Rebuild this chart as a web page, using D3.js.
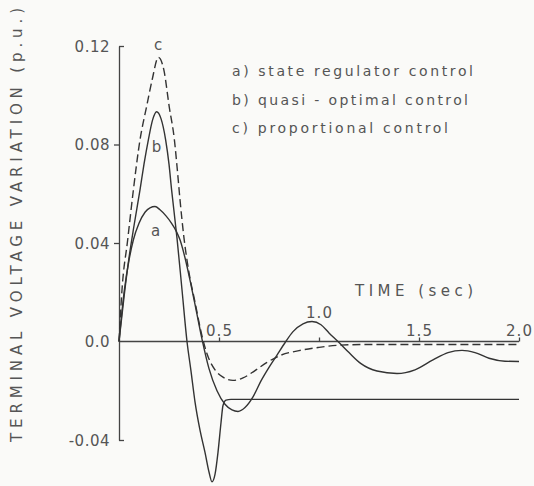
<!DOCTYPE html>
<html>
<head>
<meta charset="utf-8">
<script src="https://cdn.jsdelivr.net/npm/d3@7"></script>
<style>
  body { margin: 0; background: #fafaf8; }
  svg { display: block; font-family: 'DejaVu Sans', sans-serif; }
  .axis path, .axis line { stroke: #444; stroke-width: 1.3; }
  .axis text { fill: #555; font-size: 15px; font-family: 'DejaVu Sans', sans-serif; }
  .curve { fill: none; stroke: #333; stroke-width: 1.4; }
  .label { fill: #555; }
</style>
</head>
<body>
<div id="chart"></div>
<script>
// Curve data: [time (sec), voltage variation (p.u.)]
const stateRegulator = [
  [0, 0], [0.027, 0.021], [0.05, 0.033], [0.072, 0.0413], [0.10, 0.048], [0.13, 0.0525],
  [0.155, 0.0543], [0.18, 0.0548], [0.205, 0.0535], [0.235, 0.051], [0.263, 0.048],
  [0.285, 0.045], [0.305, 0.0413], [0.33, 0.034], [0.36, 0.023], [0.39, 0.011],
  [0.415, 0.001], [0.45, -0.011], [0.49, -0.020], [0.53, -0.0255], [0.565, -0.0278],
  [0.595, -0.0284], [0.63, -0.0268], [0.67, -0.0225], [0.71, -0.016], [0.75, -0.0105],
  [0.79, -0.0055], [0.83, -0.0005], [0.87, 0.004], [0.92, 0.0072], [0.965, 0.0081],
  [1.01, 0.0068], [1.05, 0.0035], [1.095, 0], [1.15, -0.0045], [1.21, -0.009],
  [1.29, -0.012], [1.39, -0.013], [1.48, -0.0115], [1.57, -0.0075], [1.645, -0.0045],
  [1.715, -0.0036], [1.78, -0.0045], [1.85, -0.0068], [1.93, -0.008], [2.0, -0.0081]
];

const quasiOptimal = [
  [0, 0], [0.025, 0.018], [0.05, 0.034], [0.075, 0.047], [0.105, 0.0616], [0.125, 0.072],
  [0.147, 0.082], [0.168, 0.090], [0.188, 0.0933], [0.21, 0.0905], [0.233, 0.082],
  [0.25, 0.072], [0.263, 0.0616], [0.29, 0.042], [0.315, 0.021], [0.34, 0],
  [0.36, -0.012], [0.38, -0.0245], [0.405, -0.036], [0.43, -0.045], [0.45, -0.053],
  [0.465, -0.057], [0.48, -0.054], [0.495, -0.045], [0.51, -0.033], [0.52, -0.026],
  [0.535, -0.0238], [0.56, -0.0235], [1.0, -0.0235], [2.0, -0.0235]
];

const proportional = [
  [0, 0], [0.015, 0.021], [0.043, 0.041], [0.072, 0.0616], [0.105, 0.0819], [0.138, 0.0954],
  [0.165, 0.106], [0.197, 0.1154], [0.225, 0.110], [0.251, 0.0954], [0.277, 0.0819],
  [0.293, 0.0685], [0.305, 0.0576], [0.325, 0.042], [0.35, 0.028], [0.38, 0.016],
  [0.41, 0.004], [0.44, -0.005], [0.48, -0.0115], [0.52, -0.0145], [0.57, -0.0158],
  [0.62, -0.0148], [0.68, -0.0118], [0.74, -0.0085], [0.805, -0.0057], [0.9, -0.0037],
  [1.0, -0.0024], [1.1, -0.0015], [1.25, -0.0012], [2.0, -0.0012]
];

const xTicks = [0.5, 1.0, 1.5, 2.0];
const yTicks = [0.12, 0.08, 0.04, 0.0, -0.04];
const yTickLabels = ['0.12', '0.08', '0.04', '0.0', '-0.04'];
const legendLines = ['a) state regulator control', 'b) quasi - optimal control', 'c) proportional control'];

// Chart setup
const width = 534;
const height = 486;

const svg = d3.select('#chart')
  .append('svg')
  .attr('width', width)
  .attr('height', height);

svg.append('rect')
  .attr('width', width)
  .attr('height', height)
  .attr('fill', '#fafaf8');

const xScale = d3.scaleLinear().domain([0, 2]).range([119, 519]);
const yScale = d3.scaleLinear().domain([-0.04, 0.12]).range([440, 46]);

// Y axis: small ticks left, bracket ends at top and bottom
const yAxis = svg.append('g')
  .attr('class', 'axis y-axis')
  .attr('transform', `translate(${xScale(0)}, 0)`)
  .call(d3.axisLeft(yScale)
    .tickValues(yTicks)
    .tickSize(5)
    .tickSizeOuter(0)
    .tickPadding(4)
    .tickFormat((d, i) => yTickLabels[i]));

yAxis.selectAll('.tick line')
  .attr('x2', (d) => (d === 0 ? 0 : (d === 0.12 || d === -0.04 ? 5 : -5)));
yAxis.selectAll('.tick text')
  .attr('x', -9)
  .attr('dy', '0.36em')
  .style('letter-spacing', '0.5px');

// X axis at zero, ticks upward, labels above
const xAxis = svg.append('g')
  .attr('class', 'axis x-axis')
  .attr('transform', `translate(0, ${yScale(0)})`)
  .call(d3.axisTop(xScale)
    .tickValues(xTicks)
    .tickSize(4)
    .tickSizeOuter(0)
    .tickFormat(d3.format('.1f')));

xAxis.select('.domain').attr('d', `M${xScale(0)},0H${xScale(2)}`);
xAxis.selectAll('.tick text')
  .attr('y', (d) => (d === 1 ? -24 : -6))
  .attr('dy', 0)
  .style('letter-spacing', '1px');

// Curves
const line = d3.line()
  .x((d) => xScale(d[0]))
  .y((d) => yScale(d[1]))
  .curve(d3.curveMonotoneX);

svg.append('path').datum(stateRegulator).attr('class', 'curve').attr('d', line);
svg.append('path').datum(quasiOptimal).attr('class', 'curve').attr('d', line);
svg.append('path').datum(proportional).attr('class', 'curve')
  .attr('stroke-dasharray', '8,4')
  .attr('d', line);

// Curve letters
const curveLabels = [
  { text: 'c', x: 158, y: 45 },
  { text: 'b', x: 156.5, y: 147 },
  { text: 'a', x: 155.5, y: 231 }
];
svg.selectAll('.curve-label')
  .data(curveLabels)
  .enter()
  .append('text')
  .attr('class', 'label curve-label')
  .attr('x', (d) => d.x)
  .attr('y', (d) => d.y)
  .attr('text-anchor', 'middle')
  .attr('dominant-baseline', 'central')
  .style('font-size', '15px')
  .text((d) => d.text);

// Legend text
const legendLengths = [241, 236, 216];
svg.selectAll('.legend-line')
  .data(legendLines)
  .enter()
  .append('text')
  .attr('class', 'label legend-line')
  .attr('x', 232)
  .attr('y', (d, i) => 76 + i * 28.5)
  .attr('textLength', (d, i) => legendLengths[i])
  .attr('lengthAdjust', 'spacing')
  .style('font-size', '14px')
  .text((d) => d);

// Axis titles
svg.append('text')
  .attr('class', 'label')
  .attr('x', 355)
  .attr('y', 296)
  .attr('textLength', 118)
  .attr('lengthAdjust', 'spacing')
  .style('font-size', '15px')
  .text('TIME (sec)');

svg.append('text')
  .attr('class', 'label')
  .attr('transform', 'translate(17, 225) rotate(-90)')
  .attr('text-anchor', 'middle')
  .attr('dominant-baseline', 'central')
  .attr('textLength', 434)
  .attr('lengthAdjust', 'spacing')
  .style('font-size', '15px')
  .text('TERMINAL VOLTAGE VARIATION (p.u.)');
</script>
</body>
</html>
